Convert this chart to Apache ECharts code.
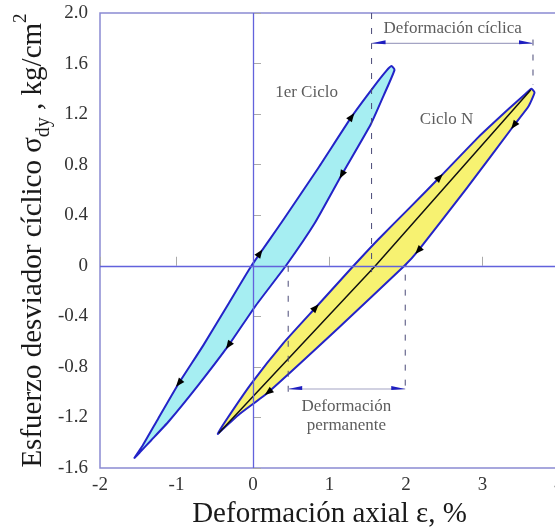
<!DOCTYPE html>
<html>
<head>
<meta charset="utf-8">
<script src="https://cdn.jsdelivr.net/npm/echarts@6/dist/echarts.min.js"></script>
<style>
  html, body { margin: 0; padding: 0; background: #fff; }
  #chart { width: 555px; height: 531px; }
</style>
</head>
<body>
<div id="chart"></div>
<script>
// axis ticks
const xTicks = [-2, -1, 0, 1, 2, 3, 4];
const yTicks = [-1.6, -1.2, -0.8, -0.4, 0, 0.4, 0.8, 1.2, 1.6, 2.0];

// 1er ciclo: rama de carga (sube) y de descarga (baja)
const firstUp = [
  [-1.55, -1.52], [-1.44, -1.42], [-1.24, -1.21], [-0.97, -0.93], [-0.65, -0.63],
  [-0.32, -0.30], [-0.02, 0.0], [0.37, 0.34], [0.86, 0.78], [1.29, 1.18],
  [1.57, 1.41], [1.74, 1.54], [1.81, 1.58]
];
const firstDown = [
  [1.85, 1.55], [1.71, 1.35], [1.54, 1.12], [1.16, 0.72], [0.81, 0.34],
  [0.43, 0.0], [0.03, -0.32], [-0.32, -0.63], [-0.71, -0.94], [-1.10, -1.23],
  [-1.33, -1.38], [-1.47, -1.47]
];
const firstArrows = [[-0.97, -0.93], [0.09, 0.10], [1.29, 1.18], [1.16, 0.72], [-0.32, -0.63]];

// ciclo N
const cycleNUp = [
  [-0.46, -1.33], [-0.35, -1.22], [-0.02, -0.93], [0.40, -0.61], [0.82, -0.33],
  [1.30, -0.01], [1.64, 0.21], [2.05, 0.46], [2.44, 0.70], [2.95, 1.02],
  [3.34, 1.24], [3.56, 1.36], [3.64, 1.40]
];
const cycleNDown = [
  [3.68, 1.37], [3.60, 1.26], [3.41, 1.11], [2.79, 0.61], [2.16, 0.12],
  [1.98, 0.0], [1.12, -0.49], [0.20, -1.00], [-0.19, -1.18], [-0.39, -1.29]
];
const cycleNMid = [[-0.45, -1.325], [1.60, 0.0], [3.63, 1.39]];
const cycleNArrows = [[2.44, 0.70], [0.82, -0.33], [3.41, 1.11], [2.16, 0.12], [0.20, -1.00]];

// deformaciones: [x1, x2, nivel]
const cyclicStrain = [1.55, 3.66, 1.76];
const permanentStrain = [0.46, 1.99, -0.975];
// guias verticales: [x, y1, y2]
const guides = [[1.55, 2.0, -0.05], [3.66, 1.79, 1.43], [0.46, 0.0, -1.0], [1.99, -0.07, -1.0]];

const serif = 'Liberation Serif';
const chart = echarts.init(document.getElementById('chart'));

function loop(pts, fill) {
  return {
    type: 'custom', coordinateSystem: 'cartesian2d', silent: true, z: 2,
    data: [[0, 0]],
    renderItem: (params, api) => ({
      type: 'polygon',
      shape: { points: pts.map(p => api.coord(p)), smooth: 0.15 },
      style: { fill: fill, stroke: '#2323c8', lineWidth: 2 }
    })
  };
}

function arrows(marks, pts) {
  return {
    type: 'custom', coordinateSystem: 'cartesian2d', silent: true, z: 6,
    data: marks,
    renderItem: (params, api) => {
      const c = api.coord([api.value(0), api.value(1)]);
      const px = pts.map(p => api.coord(p));
      // sentido del tramo mas cercano
      let best = 0, bd = Infinity;
      for (let i = 0; i < px.length - 1; i++) {
        const mx = (px[i][0] + px[i + 1][0]) / 2, my = (px[i][1] + px[i + 1][1]) / 2;
        const d = (mx - c[0]) ** 2 + (my - c[1]) ** 2;
        if (d < bd) { bd = d; best = i; }
      }
      let dx = px[best + 1][0] - px[best][0], dy = px[best + 1][1] - px[best][1];
      const len = Math.hypot(dx, dy);
      dx /= len; dy /= len;
      const L = 9, W = 3.5;
      const tip = [c[0] + dx * L / 2, c[1] + dy * L / 2];
      const bx = c[0] - dx * L / 2, by = c[1] - dy * L / 2;
      return {
        type: 'polygon',
        shape: { points: [tip, [bx - dy * W, by + dx * W], [bx + dy * W, by - dx * W]] },
        style: { fill: '#000' }
      };
    }
  };
}

function dimension(d) {
  return {
    type: 'custom', coordinateSystem: 'cartesian2d', silent: true, z: 5,
    data: [d],
    renderItem: (params, api) => {
      const a = api.coord([api.value(0), api.value(2)]);
      const b = api.coord([api.value(1), api.value(2)]);
      return {
        type: 'group',
        children: [
          { type: 'line', shape: { x1: a[0], y1: a[1], x2: b[0], y2: b[1] },
            style: { stroke: '#a4a4c4', lineWidth: 1.2 } },
          { type: 'polygon', shape: { points: [[a[0], a[1]], [a[0] + 14, a[1] - 3], [a[0] + 14, a[1] + 1]] },
            style: { fill: '#1e1ec0' } },
          { type: 'polygon', shape: { points: [[b[0], b[1]], [b[0] - 14, b[1] - 3], [b[0] - 14, b[1] + 1]] },
            style: { fill: '#1e1ec0' } }
        ]
      };
    }
  };
}

const option = {
  animation: false,
  grid: {
    left: 100, top: 13, width: 459, height: 455, outerBoundsMode: 'none',
    show: true, borderColor: '#8a8ad2', borderWidth: 1.5
  },
  xAxis: {
    type: 'value', min: xTicks[0], max: xTicks[xTicks.length - 1], interval: 1,
    splitLine: { show: false },
    axisLine: { show: false },
    axisTick: { inside: true, length: 9, lineStyle: { color: '#aaa' } },
    axisLabel: { fontFamily: serif, fontSize: 19, color: '#333', margin: 8 },
    name: 'Deformación axial ε, %', nameLocation: 'middle', nameGap: 32,
    nameTextStyle: { fontFamily: serif, fontSize: 29, color: '#1a1a1a' }
  },
  yAxis: {
    type: 'value', min: yTicks[0], max: yTicks[yTicks.length - 1], interval: 0.4,
    splitLine: { show: false },
    axisLine: { show: false },
    axisTick: { inside: true, length: 8, lineStyle: { color: '#aaa' } },
    axisLabel: {
      fontFamily: serif, fontSize: 19, color: '#333', margin: 12,
      formatter: v => Math.abs(v) < 1e-9 ? '0' : v.toFixed(1)
    },
    name: 'Esfuerzo desviador cíclico σ{sub|dy} , kg/cm{sup|2}',
    nameLocation: 'middle', nameRotate: 90, nameGap: 46, nameMoveOverlap: false,
    nameTextStyle: {
      fontFamily: serif, fontSize: 29, color: '#1a1a1a', lineHeight: 42,
      rich: {
        sub: { fontFamily: serif, fontSize: 20, color: '#1a1a1a', verticalAlign: 'bottom', lineHeight: 42 },
        sup: { fontFamily: serif, fontSize: 19, color: '#1a1a1a', verticalAlign: 'top', lineHeight: 42 }
      }
    }
  },
  series: [
    loop(firstUp.concat(firstDown), '#a6eef2'),
    loop(cycleNUp.concat(cycleNDown), '#f7f271'),
    {
      type: 'line', data: cycleNMid, symbol: 'none', silent: true, z: 4,
      lineStyle: { color: '#111', width: 1.5 },
      markLine: {
        silent: true, symbol: 'none', label: { show: false },
        lineStyle: { color: '#6262dc', width: 1.3, type: 'solid' },
        data: [{ xAxis: 0 }, { yAxis: 0 }]
      }
    },
    arrows(firstArrows, firstUp.concat(firstDown)),
    arrows(cycleNArrows, cycleNUp.concat(cycleNDown)),
    {
      type: 'custom', coordinateSystem: 'cartesian2d', silent: true, z: 5,
      data: guides,
      renderItem: (params, api) => {
        const a = api.coord([api.value(0), api.value(1)]);
        const b = api.coord([api.value(0), api.value(2)]);
        return { type: 'line', shape: { x1: a[0], y1: a[1], x2: b[0], y2: b[1] },
          style: { stroke: '#4a4a78', lineWidth: 1, lineDash: [6, 9] } };
      }
    },
    dimension(cyclicStrain),
    dimension(permanentStrain),
    {
      type: 'scatter', symbolSize: 0, silent: true, z: 7,
      label: { show: true, position: 'inside', fontFamily: serif, fontSize: 17, color: '#333', lineHeight: 19 },
      data: [
        { value: [0.70, 1.37], label: { formatter: '1er Ciclo' } },
        { value: [2.53, 1.16], label: { formatter: 'Ciclo N' } },
        { value: [2.61, 1.88], label: { formatter: 'Deformación cíclica' } },
        { value: [1.22, -1.185], label: { formatter: 'Deformación\npermanente' } }
      ]
    }
  ]
};
chart.setOption(option);
</script>
</body>
</html>
